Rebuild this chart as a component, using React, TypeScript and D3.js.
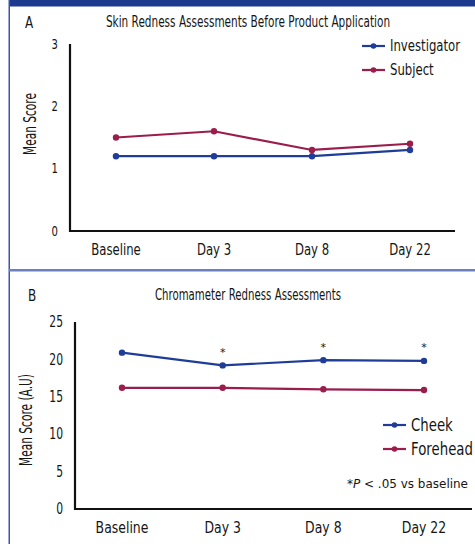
import React from "react";
import * as d3 from "d3";

const categories = ["Baseline", "Day 3", "Day 8", "Day 22"];
const investigator = [1.2, 1.2, 1.2, 1.3];
const subject = [1.5, 1.6, 1.3, 1.4];
const ticksA = [0, 1, 2, 3];

const cheek = [20.9, 19.2, 19.9, 19.8];
const forehead = [16.2, 16.2, 16.0, 15.9];
const ticksB = [0, 5, 10, 15, 20, 25];
const significant = [false, true, true, true];

const BLUE = "#1f3d98";
const RED = "#9a1d4c";
const FONT = "'DejaVu Sans', sans-serif";

type Series = { name: string; values: number[]; color: string };

function T(props: {
  x: number;
  y: number;
  size: number;
  sx: number;
  anchor?: string;
  rotate?: number;
  children: React.ReactNode;
}) {
  const { x, y, size, sx, anchor = "start", rotate = 0, children } = props;
  return (
    <text
      transform={`translate(${x},${y}) rotate(${rotate}) scale(${sx},1)`}
      fontFamily={FONT}
      fontSize={size}
      textAnchor={anchor}
      dominantBaseline="central"
      fill="#151515"
    >
      {children}
    </text>
  );
}

function Panel(props: {
  letter: string;
  title: string;
  titleSx: number;
  top: number;
  yLabel: string;
  ticks: number[];
  tickSize: number;
  yMax: number;
  axisX: number;
  yTop: number;
  yBottom: number;
  xRight: number;
  xFirst: number;
  xLast: number;
  xLabelSize: number;
  xLabelDy: number;
  series: Series[];
  legendX: number;
  legendY: number;
  legendGap: number;
  legendSize: number;
  legendSx: number;
  yLabelX: number;
  yLabelCenter: number;
  letterX: number;
  stars?: boolean[];
}) {
  const p = props;
  const x = d3.scalePoint<string>().domain(categories).range([p.xFirst, p.xLast]);
  const y = d3.scaleLinear().domain([0, p.yMax]).range([p.yBottom, p.yTop]);
  const line = d3
    .line<number>()
    .x((_, i) => x(categories[i]) as number)
    .y((d) => y(d));
  return (
    <g>
      <T x={p.letterX} y={p.top + 22} size={15} sx={0.8} anchor="middle">
        {p.letter}
      </T>
      <T x={248} y={p.top + 22} size={15} sx={p.titleSx} anchor="middle">
        {p.title}
      </T>
      <line x1={p.axisX} x2={p.axisX} y1={p.yTop} y2={p.yBottom + 1} stroke="#111" strokeWidth={2.2} />
      <line x1={p.axisX - 1} x2={p.xRight} y1={p.yBottom} y2={p.yBottom} stroke="#111" strokeWidth={2.2} />
      {p.ticks.map((t) => (
        <T key={t} x={p.axisX - 12} y={y(t)} size={p.tickSize} sx={0.72} anchor="end">
          {t}
        </T>
      ))}
      {categories.map((c) => (
        <T key={c} x={x(c) as number} y={p.yBottom + p.xLabelDy} size={p.xLabelSize} sx={0.78} anchor="middle">
          {c}
        </T>
      ))}
      <T x={p.yLabelX} y={p.yLabelCenter} size={18} sx={0.59} anchor="middle" rotate={-90}>
        {p.yLabel}
      </T>
      {p.series.map((s) => (
        <g key={s.name}>
          <path d={line(s.values) || ""} fill="none" stroke={s.color} strokeWidth={2.2} />
          {s.values.map((v, i) => (
            <circle key={i} cx={x(categories[i]) as number} cy={y(v)} r={3.2} fill={s.color} />
          ))}
        </g>
      ))}
      {p.stars &&
        p.stars.map((st, i) =>
          st ? (
            <T
              key={i}
              x={x(categories[i]) as number}
              y={y(p.series[0].values[i]) - 13}
              size={11}
              sx={1}
              anchor="middle"
            >
              *
            </T>
          ) : null
        )}
      {p.series.map((s, i) => {
        const ly = p.legendY + i * p.legendGap;
        return (
          <g key={s.name}>
            <line x1={p.legendX} x2={p.legendX + 23} y1={ly} y2={ly} stroke={s.color} strokeWidth={2.2} />
            <circle cx={p.legendX + 11.5} cy={ly} r={2.8} fill={s.color} />
            <T x={p.legendX + 28} y={ly} size={p.legendSize} sx={p.legendSx}>
              {s.name}
            </T>
          </g>
        );
      })}
    </g>
  );
}

export default function App() {
  return (
    <svg width={475} height={544} style={{ position: "absolute", left: 0, top: 0, background: "#fff" }}>
      <rect x={0} y={0} width={475} height={544} fill="#fff" />
      <rect x={9} y={0} width={466} height={6.5} fill="#1c3a8e" />
      <rect x={8.5} y={0} width={1.5} height={544} fill="#3d55a8" />
      <rect x={9} y={269} width={466} height={2.5} fill="#6b80c0" />
      <Panel
        letter="A"
        letterX={29}
        title="Skin Redness Assessments Before Product Application"
        titleSx={0.7}
        top={0}
        yLabel="Mean Score"
        ticks={ticksA}
        tickSize={14}
        yMax={3}
        axisX={70}
        yTop={44}
        yBottom={231}
        xRight={455}
        xFirst={116}
        xLast={410}
        xLabelSize={15}
        xLabelDy={19}
        series={[
          { name: "Investigator", values: investigator, color: BLUE },
          { name: "Subject", values: subject, color: RED },
        ]}
        legendX={362}
        legendY={46}
        legendGap={24}
        legendSize={15}
        legendSx={0.78}
        yLabelX={29}
        yLabelCenter={124}
      />
      <Panel
        letter="B"
        letterX={32}
        title="Chromameter Redness Assessments"
        titleSx={0.68}
        top={273}
        yLabel="Mean Score (A.U)"
        ticks={ticksB}
        tickSize={15}
        yMax={25}
        axisX={75}
        yTop={322}
        yBottom={509}
        xRight={472}
        xFirst={122}
        xLast={424}
        xLabelSize={16}
        xLabelDy={18}
        series={[
          { name: "Cheek", values: cheek, color: BLUE },
          { name: "Forehead", values: forehead, color: RED },
        ]}
        legendX={383}
        legendY={425}
        legendGap={24}
        legendSize={18}
        legendSx={0.74}
        yLabelX={25}
        yLabelCenter={420}
        stars={significant}
      />
      <text
        x={347}
        y={483}
        fontFamily={FONT}
        fontSize={13}
        textLength={121}
        lengthAdjust="spacingAndGlyphs"
        dominantBaseline="central"
        fill="#151515"
      >
        *<tspan fontStyle="italic">P</tspan>{"  <  "}.05 vs baseline
      </text>
    </svg>
  );
}
